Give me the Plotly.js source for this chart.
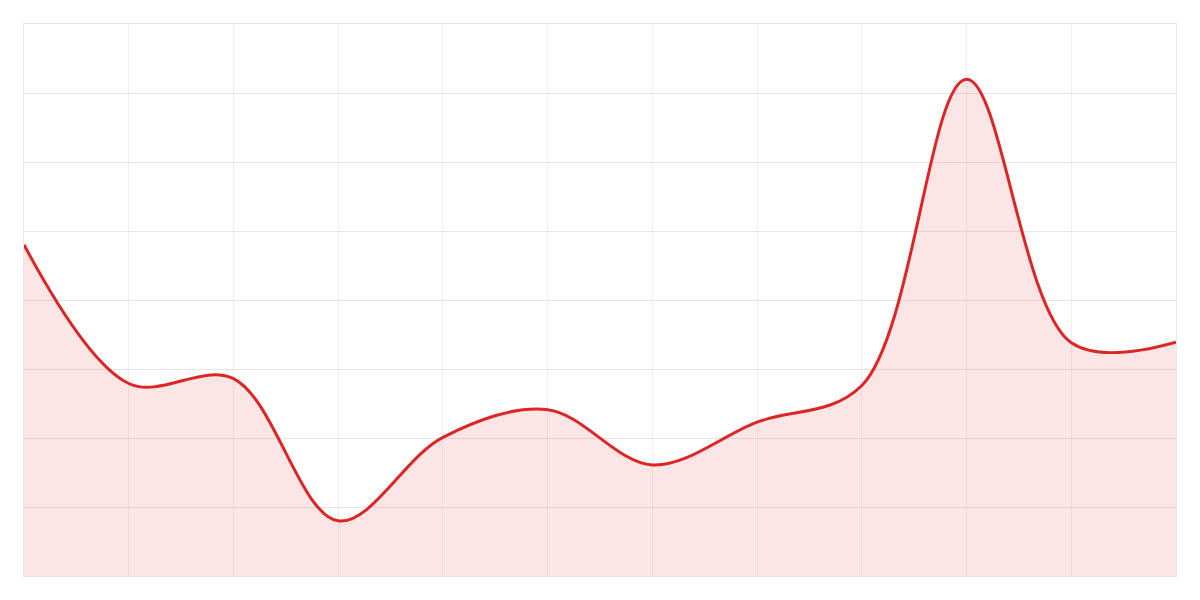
<!DOCTYPE html>
<html>
<head>
<meta charset="utf-8">
<script src="https://cdn.plot.ly/plotly-3.0.1.min.js"></script>
<style>
  html, body { margin: 0; padding: 0; background: #fff; }
  #chart { width: 1200px; height: 600px; }
</style>
</head>
<body>
<div id="chart"></div>
<script>
// values, one per column
let steps = [0, 1, 2, 3, 4, 5, 6, 7, 8, 9, 10, 11];
let values = [4.8, 2.79, 2.86, 0.8, 2.01, 2.41, 1.61, 2.23, 2.76, 7.2, 3.38, 3.39];

let trace = {
  type: "scatter",
  mode: "lines",
  x: steps,
  y: values,
  fill: "tozeroy",
  fillcolor: "rgba(220, 38, 38, 0.12)",
  line: { color: "#dc2626", width: 3, shape: "spline", smoothing: 1 },
  hoverinfo: "skip",
};

let layout = {
  width: 1200,
  height: 600,
  margin: { l: 24, r: 24, t: 24, b: 24 },
  paper_bgcolor: "#ffffff",
  plot_bgcolor: "#ffffff",
  showlegend: false,
  xaxis: {
    range: [0, 11],
    dtick: 1,
    showticklabels: false,
    showgrid: true,
    gridcolor: "#efefef",
    zeroline: false,
    showline: true,
    mirror: true,
    linecolor: "#e8e8e8",
    linewidth: 1,
  },
  yaxis: {
    range: [0, 8],
    dtick: 1,
    showticklabels: false,
    showgrid: true,
    gridcolor: "#e6e6e6",
    zeroline: false,
    showline: true,
    mirror: true,
    linecolor: "#e8e8e8",
    linewidth: 1,
  },
};

Plotly.newPlot("chart", [trace], layout, { staticPlot: true });
</script>
</body>
</html>
